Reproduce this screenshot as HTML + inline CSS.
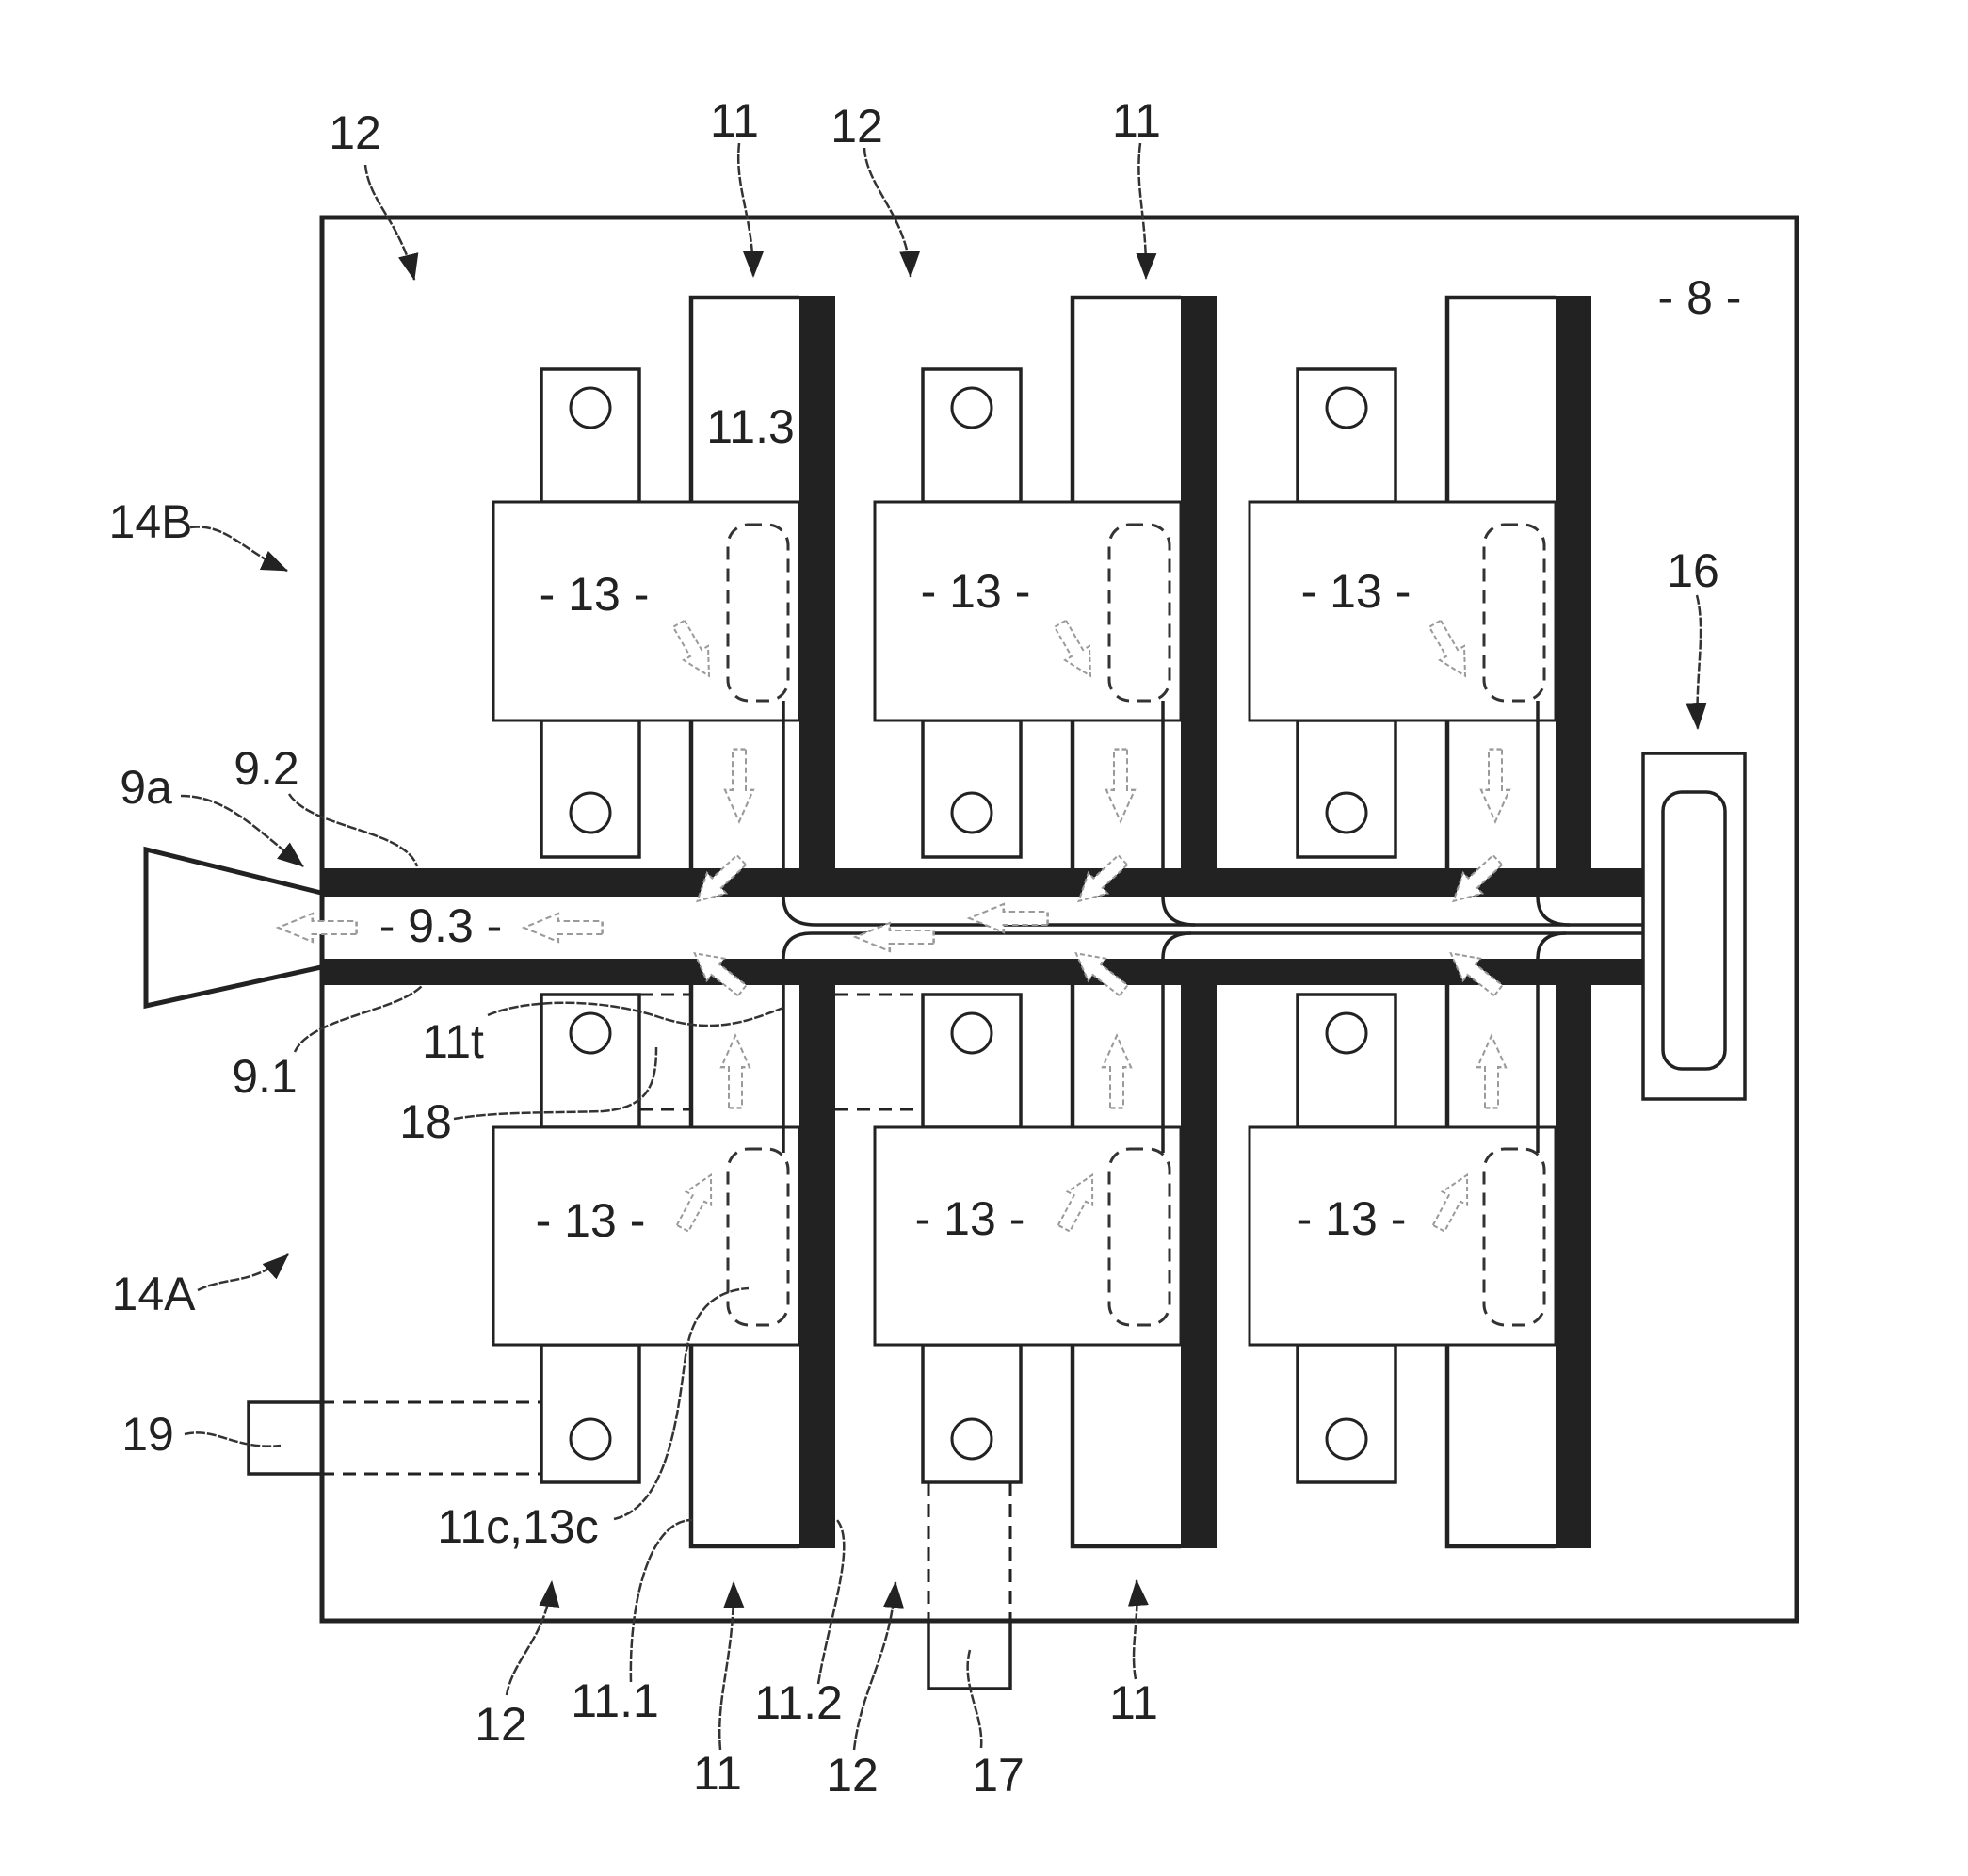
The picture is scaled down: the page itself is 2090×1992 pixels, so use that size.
<!DOCTYPE html>
<html>
<head>
<meta charset="utf-8">
<style>
html,body{margin:0;padding:0;background:#fff;}
svg{display:block;}
text{font-family:"Liberation Sans",Arial,sans-serif;fill:#222;}
</style>
</head>
<body>
<svg width="2090" height="1992" viewBox="0 0 2090 1992" xmlns="http://www.w3.org/2000/svg">
<defs>
<marker id="ah" viewBox="0 0 28 22" refX="27" refY="11" markerWidth="28" markerHeight="22" markerUnits="userSpaceOnUse" orient="auto">
<path d="M0,0 L28,11 L0,22 z" fill="#222"/>
</marker>
<polygon id="ha" points="-32,-7 4,-7 4,-15 32,0 4,15 4,7 -32,7" fill="#fff" stroke="#9a9a9a" stroke-width="2" stroke-dasharray="5 3"/>
</defs>
<rect width="2090" height="1992" fill="#fff"/>

<!-- main box -->
<rect x="342" y="231" width="1566" height="1490" fill="none" stroke="#222" stroke-width="5"/>

<!-- nozzle / trapezoid -->
<path d="M341,948 L155,902 L155,1068 L341,1027" fill="none" stroke="#222" stroke-width="5" stroke-linejoin="miter"/>

<!-- 19 -->
<path d="M341,1489 H264 V1565 H341" fill="none" stroke="#222" stroke-width="3.5"/>
<path d="M341,1489 H575 M341,1565 H575" fill="none" stroke="#222" stroke-width="3" stroke-dasharray="14 9"/>

<!-- 17 -->
<path d="M986,1574 V1721 M1073,1574 V1721" fill="none" stroke="#222" stroke-width="3" stroke-dasharray="14 9"/>
<path d="M986,1721 V1793 H1073 V1721" fill="none" stroke="#222" stroke-width="3.5"/>

<!-- column white rect outlines -->
<g fill="none" stroke="#222" stroke-width="4.5">
<path d="M734,922 V316 H849"/>
<path d="M734,1046 V1642 H849"/>
<path d="M1139,922 V316 H1254"/>
<path d="M1139,1046 V1642 H1254"/>
<path d="M1537,922 V316 H1652"/>
<path d="M1537,1046 V1642 H1652"/>
</g>

<!-- tabs -->
<g fill="#fff" stroke="#222" stroke-width="3.5">
<rect x="575" y="392" width="104" height="141"/>
<rect x="575" y="765" width="104" height="145"/>
<rect x="575" y="1056" width="104" height="141"/>
<rect x="575" y="1428" width="104" height="146"/>
<rect x="980" y="392" width="104" height="141"/>
<rect x="980" y="765" width="104" height="145"/>
<rect x="980" y="1056" width="104" height="141"/>
<rect x="980" y="1428" width="104" height="146"/>
<rect x="1378" y="392" width="104" height="141"/>
<rect x="1378" y="765" width="104" height="145"/>
<rect x="1378" y="1056" width="104" height="141"/>
<rect x="1378" y="1428" width="104" height="146"/>
</g>
<g fill="none" stroke="#222" stroke-width="3">
<circle cx="627" cy="433" r="21"/>
<circle cx="627" cy="863" r="21"/>
<circle cx="627" cy="1097" r="21"/>
<circle cx="627" cy="1528" r="21"/>
<circle cx="1032" cy="433" r="21"/>
<circle cx="1032" cy="863" r="21"/>
<circle cx="1032" cy="1097" r="21"/>
<circle cx="1032" cy="1528" r="21"/>
<circle cx="1430" cy="433" r="21"/>
<circle cx="1430" cy="863" r="21"/>
<circle cx="1430" cy="1097" r="21"/>
<circle cx="1430" cy="1528" r="21"/>
</g>

<!-- 18 dashed -->
<path d="M679,1056 H734 M887,1056 H980 M679,1178 H734 M887,1178 H980" fill="none" stroke="#222" stroke-width="3" stroke-dasharray="14 9"/>

<!-- boxes 13 -->
<g fill="#fff" stroke="#222" stroke-width="3">
<rect x="524" y="533" width="325" height="232"/>
<rect x="524" y="1197" width="325" height="231"/>
<rect x="929" y="533" width="325" height="232"/>
<rect x="929" y="1197" width="325" height="231"/>
<rect x="1327" y="533" width="325" height="232"/>
<rect x="1327" y="1197" width="325" height="231"/>
</g>
<g font-size="50" text-anchor="middle">
<text x="631" y="648">- 13 -</text>
<text x="627" y="1313">- 13 -</text>
<text x="1036" y="645">- 13 -</text>
<text x="1030" y="1311">- 13 -</text>
<text x="1440" y="645">- 13 -</text>
<text x="1435" y="1311">- 13 -</text>
</g>

<!-- dashed rounded rects -->
<g fill="none" stroke="#333" stroke-width="3" stroke-dasharray="14 9">
<rect x="773" y="557" width="64" height="187" rx="22"/>
<rect x="773" y="1220" width="64" height="187" rx="22"/>
<rect x="1178" y="557" width="64" height="187" rx="22"/>
<rect x="1178" y="1220" width="64" height="187" rx="22"/>
<rect x="1576" y="557" width="64" height="187" rx="22"/>
<rect x="1576" y="1220" width="64" height="187" rx="22"/>
</g>

<!-- hollow arrows in boxes / columns -->
<use href="#ha" transform="translate(737,690) rotate(60)"/>
<use href="#ha" transform="translate(785,834) rotate(90) scale(1.2,1)"/>
<use href="#ha" transform="translate(740,1276) rotate(-62)"/>
<use href="#ha" transform="translate(781,1138) rotate(-90) scale(1.2,1)"/>
<use href="#ha" transform="translate(1142,690) rotate(60)"/>
<use href="#ha" transform="translate(1190,834) rotate(90) scale(1.2,1)"/>
<use href="#ha" transform="translate(1145,1276) rotate(-62)"/>
<use href="#ha" transform="translate(1186,1138) rotate(-90) scale(1.2,1)"/>
<use href="#ha" transform="translate(1540,690) rotate(60)"/>
<use href="#ha" transform="translate(1588,834) rotate(90) scale(1.2,1)"/>
<use href="#ha" transform="translate(1543,1276) rotate(-62)"/>
<use href="#ha" transform="translate(1584,1138) rotate(-90) scale(1.2,1)"/>

<!-- dark column bars -->
<g fill="#222">
<rect x="849" y="314" width="38" height="1330"/>
<rect x="1254" y="314" width="38" height="1330"/>
<rect x="1652" y="314" width="38" height="1330"/>
<!-- channel walls -->
<rect x="342" y="922" width="1403" height="30"/>
<rect x="342" y="1018" width="1403" height="28"/>
</g>
<!-- channel interior (white) -->
<rect x="344" y="952" width="1401" height="66" fill="#fff"/>
<!-- box left border through channel -->
<line x1="342" y1="950" x2="342" y2="1020" stroke="#222" stroke-width="5"/>

<!-- wires and bundle -->
<g fill="none" stroke="#222" stroke-width="3.5">
<path d="M832,744 V952 Q832,982 866,982"/>
<path d="M832,1224 V1018 Q832,991 862,991"/>
<path d="M1235,744 V952 Q1235,982 1269,982"/>
<path d="M1235,1224 V1018 Q1235,991 1265,991"/>
<path d="M1633,744 V952 Q1633,982 1667,982"/>
<path d="M1633,1224 V1018 Q1633,991 1663,991"/>
<path d="M866,982 H1745"/>
<path d="M862,991 H1745"/>
</g>

<!-- hollow arrows at channel crossings and in channel -->
<use href="#ha" transform="translate(764,935) rotate(137)"/>
<use href="#ha" transform="translate(763,1032) rotate(218)"/>
<use href="#ha" transform="translate(1169,935) rotate(137)"/>
<use href="#ha" transform="translate(1168,1032) rotate(218)"/>
<use href="#ha" transform="translate(1567,935) rotate(137)"/>
<use href="#ha" transform="translate(1566,1032) rotate(218)"/>
<use href="#ha" transform="translate(337,985) rotate(180) scale(1.3,1)"/>
<use href="#ha" transform="translate(598,985) rotate(180) scale(1.3,1)"/>
<use href="#ha" transform="translate(950,995) rotate(180) scale(1.3,1)"/>
<use href="#ha" transform="translate(1071,975) rotate(180) scale(1.3,1)"/>

<!-- box 16 -->
<rect x="1745" y="800" width="108" height="367" fill="#fff" stroke="#222" stroke-width="3.5"/>
<rect x="1766" y="841" width="66" height="294" rx="20" fill="none" stroke="#222" stroke-width="3.5"/>

<!-- arrows with heads -->
<g fill="none" stroke="#333" stroke-width="2.5" stroke-dasharray="10 2" marker-end="url(#ah)">
<path d="M388,175 C392,215 425,235 440,297"/>
<path d="M785,152 C780,200 800,230 800,294"/>
<path d="M918,157 C920,200 965,230 967,294"/>
<path d="M1211,152 C1205,200 1218,230 1217,296"/>
<path d="M1802,632 C1812,670 1800,720 1803,774"/>
<path d="M202,560 C240,555 258,585 305,606"/>
<path d="M192,845 C240,845 272,880 322,920"/>
<path d="M210,1370 C240,1355 270,1365 306,1332"/>
<path d="M538,1800 C545,1760 580,1740 586,1679"/>
<path d="M765,1858 C760,1800 780,1760 779,1680"/>
<path d="M907,1858 C915,1790 945,1760 951,1680"/>
<path d="M1206,1783 C1200,1750 1210,1720 1207,1678"/>
</g>

<!-- leader lines -->
<g fill="none" stroke="#333" stroke-width="2.5" stroke-dasharray="10 2">
<path d="M307,843 C330,880 430,880 443,920"/>
<path d="M313,1117 C330,1080 420,1075 448,1047"/>
<path d="M518,1078 C560,1060 640,1060 700,1080 S800,1082 832,1070"/>
<path d="M482,1188 C530,1180 580,1182 640,1180 C690,1176 697,1150 697,1112"/>
<path d="M652,1613 C710,1600 720,1500 728,1440 C735,1390 760,1370 795,1368"/>
<path d="M670,1786 C668,1700 690,1614 735,1614"/>
<path d="M869,1788 C880,1720 910,1640 889,1614"/>
<path d="M1030,1752 C1020,1790 1045,1820 1042,1856"/>
<path d="M196,1523 C230,1515 250,1540 298,1535"/>
</g>

<!-- labels -->
<g font-size="50" text-anchor="middle">
<text x="377" y="158">12</text>
<text x="780" y="145">11</text>
<text x="910" y="151">12</text>
<text x="1207" y="145">11</text>
<text x="1805" y="333">- 8 -</text>
<text x="797" y="470">11.3</text>
<text x="160" y="571">14B</text>
<text x="1798" y="623">16</text>
<text x="155" y="853">9a</text>
<text x="283" y="833">9.2</text>
<text x="468" y="1000">- 9.3 -</text>
<text x="281" y="1160">9.1</text>
<text x="481" y="1123">11t</text>
<text x="452" y="1208">18</text>
<text x="163" y="1391">14A</text>
<text x="157" y="1540">19</text>
<text x="550" y="1638">11c,13c</text>
<text x="653" y="1823">11.1</text>
<text x="848" y="1825">11.2</text>
<text x="532" y="1848">12</text>
<text x="762" y="1900">11</text>
<text x="905" y="1902">12</text>
<text x="1060" y="1902">17</text>
<text x="1204" y="1825">11</text>
</g>
</svg>
</body>
</html>
